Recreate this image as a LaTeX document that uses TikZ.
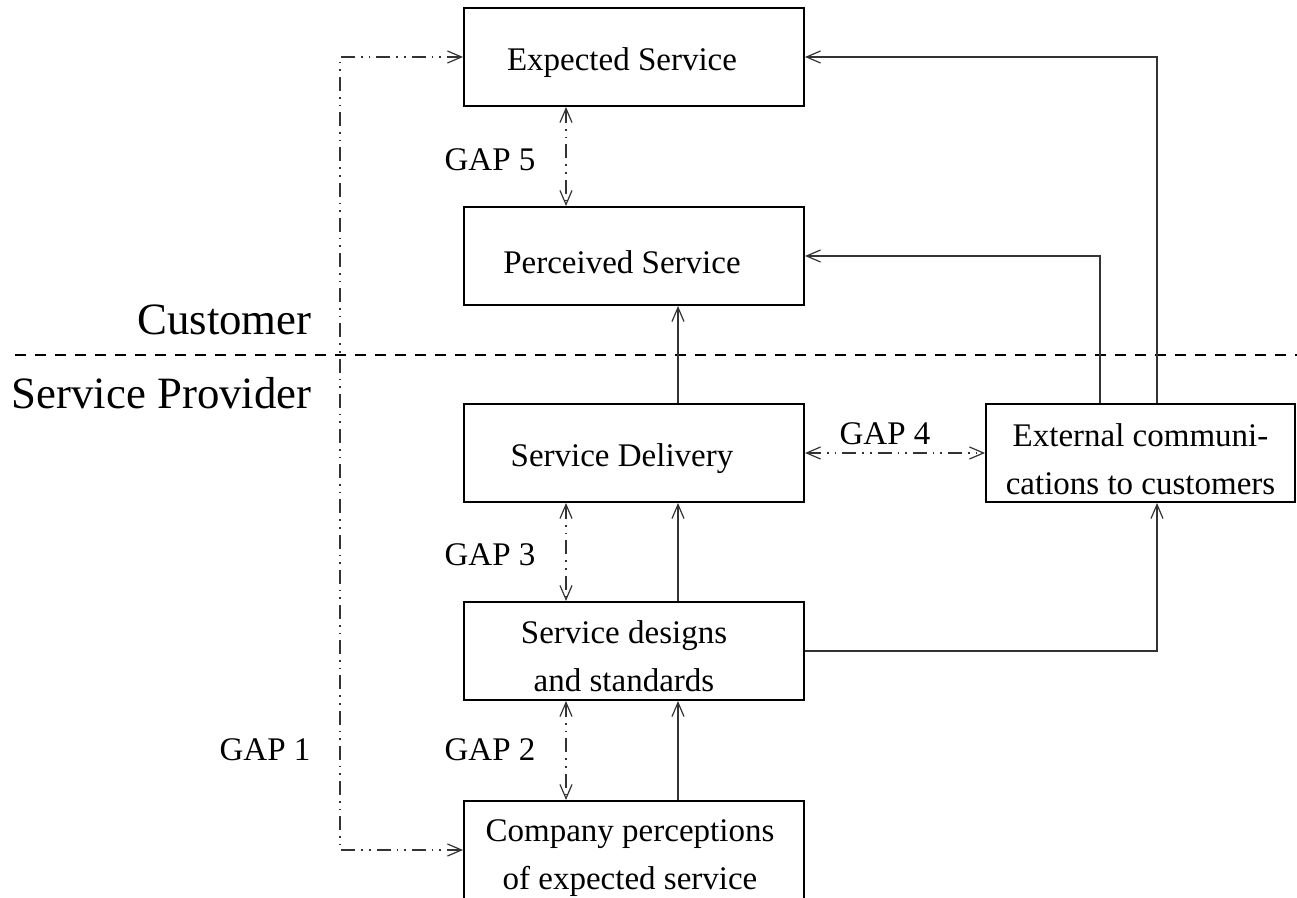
\documentclass[tikz,border=0pt]{standalone}
\usepackage{fontspec}
\setmainfont{Liberation Serif}
\usetikzlibrary{arrows.meta}
\begin{document}
\begin{tikzpicture}[x=0.5pt,y=-0.5pt,
  box/.style={draw=black,line width=1pt,minimum width=170pt,minimum height=49pt,inner sep=0pt},
  txt/.style={inner sep=0pt,align=center,font=\fontsize{16.5}{24}\selectfont},
  conn/.style={draw=black!80,line width=0.6pt},
  arr/.style={conn,-{Straight Barb[length=7pt,width=6pt]}},
  gaparr/.style={conn,{Straight Barb[length=7pt,width=6pt]}-{Straight Barb[length=7pt,width=6pt]},dash pattern=on 7pt off 3pt on 0.8pt off 3pt on 0.8pt off 3pt},
  gapl/.style={inner sep=0pt,font=\fontsize{16.5}{20}\selectfont},
  side/.style={inner sep=0pt,anchor=east,font=\fontsize{22.4}{26}\selectfont}]
\useasboundingbox (0,0) rectangle (1297,898);
\node[box,label={[txt,xshift=-6pt,yshift=-3pt]center:Expected Service}] (es) at (634,57) {};
\node[box,label={[txt,xshift=-6pt,yshift=-3pt]center:Perceived Service}] (ps) at (634,256) {};
\node[box,label={[txt,xshift=-6pt,yshift=-3pt]center:Service Delivery}] (sd) at (634,453) {};
\node[box,minimum width=154.5pt,label={[txt,yshift=-3pt]center:External communi-\\cations to customers}] (ext) at (1140.5,453) {};
\node[box,label={[txt,xshift=-5pt,yshift=-2.5pt]center:Service designs\\and standards}] (des) at (634,651) {};
\node[box,label={[txt,xshift=-2pt,yshift=-4pt]center:Company perceptions\\of expected service}] (cp) at (634,850) {};
\node[side] (cust) at (312,320) {Customer};
\node[side] (prov) at (312,393) {Service Provider};
\coordinate (dl) at (15,355);
\coordinate (dr) at (1297,355);
\draw[line width=1pt,dash pattern=on 5.5pt off 4.5pt] (dl) -- (dr);
\node[gapl] (g5) at (490,160) {GAP 5};
\node[gapl] (g4) at (885,434) {GAP 4};
\node[gapl] (g3) at (490,555) {GAP 3};
\node[gapl] (g2) at (490,750) {GAP 2};
\node[gapl] (g1) at (265,750) {GAP 1};
\draw[arr] ([xshift=22pt]sd.north) -- ([xshift=22pt]ps.south);
\draw[arr] ([xshift=22pt]des.north) -- ([xshift=22pt]sd.south);
\draw[arr] ([xshift=22pt]cp.north) -- ([xshift=22pt]des.south);
\draw[gaparr] ([xshift=-34pt]es.south) -- ([xshift=-34pt]ps.north);
\draw[gaparr] ([xshift=-34pt]sd.south) -- ([xshift=-34pt]des.north);
\draw[gaparr] ([xshift=-34pt]des.south) -- ([xshift=-34pt]cp.north);
\draw[gaparr] (sd.east) -- (ext.west);
\draw[gaparr] (es.west) -- ++(-123,0) |- (cp.west);
\draw[arr] ([xshift=-20.25pt]ext.north) |- (ps.east);
\draw[arr] ([xshift=8.25pt]ext.north) |- (es.east);
\draw[arr] (des.east) -| ([xshift=8.25pt]ext.south);
\end{tikzpicture}
\end{document}
